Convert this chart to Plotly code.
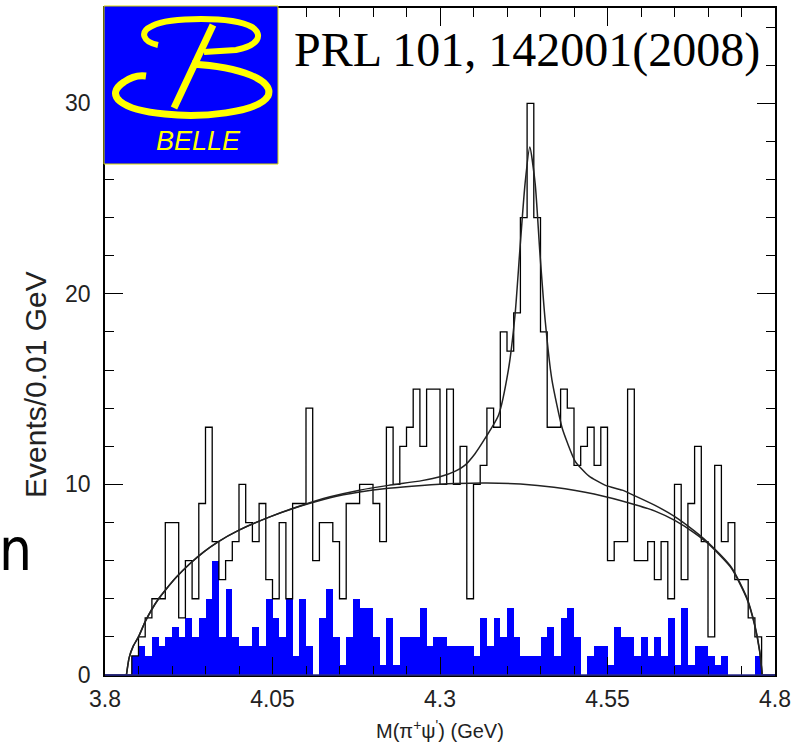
import plotly.graph_objects as go

# ---------------- data ----------------
bin_lo = 3.80
bin_w = 0.01
# signal-region events per 0.01 GeV bin (3.80 - 4.80 GeV)
data_counts = [0, 0, 0, 0, 1, 2, 3, 4, 4, 8,
               8, 3, 6, 4, 9, 13, 7, 5, 6, 7,
               10, 8, 7, 9, 5, 4, 8, 4, 9, 9,
               14, 6, 8, 8, 7, 4, 9, 9, 10, 10,
               9, 7, 13, 10, 12, 13, 15, 12, 15, 15,
               10, 15, 10, 12, 4, 10, 11, 14, 13, 18,
               17, 19, 24, 30, 24, 18, 13, 13, 15, 14,
               11, 12, 13, 11, 13, 6, 7, 7, 15, 6,
               6, 7, 5, 7, 4, 10, 5, 9, 12, 7,
               2, 11, 7, 8, 5, 5, 3, 2, 0, 0]
# scaled sideband (blue) per bin
side_counts = [0, 0, 0, 0, 1, 1.5, 1, 2, 1.5, 2,
               2.5, 2, 3, 2, 3, 4, 6, 2, 4.5, 2,
               1.5, 1.5, 2.5, 1.5, 4, 3, 2, 4, 1, 4,
               1.5, 0, 3, 4.5, 2, 0.5, 2, 4, 3.5, 3.5,
               2, 0.5, 3, 0.5, 2, 2, 2, 3.5, 1.5, 2,
               2, 1.5, 1.5, 1.5, 1.5, 1, 3, 1.5, 3, 2,
               3.5, 2, 1, 1, 1, 2, 2.5, 1, 3, 3.5,
               2, 0, 1, 1.5, 1.5, 0.5, 2.5, 2, 2, 1,
               2, 1, 2, 1, 3, 0.5, 3.5, 0.5, 1.5, 1.5,
               1, 0.5, 1, 0, 0, 0, 0, 1, 0, 0]

# background fit curve
bg_x = [3.832, 3.836, 3.842, 3.850, 3.860, 3.870, 3.880, 3.890, 3.907, 3.927,
        3.947, 3.967, 4.000, 4.046, 4.091, 4.136, 4.180, 4.223, 4.273, 4.323,
        4.370, 4.420, 4.470, 4.530, 4.590, 4.621, 4.651, 4.680, 4.700, 4.735,
        4.758, 4.770, 4.777, 4.781]
bg_y = [0, 0.9, 1.5, 2.0, 2.8, 3.45, 4.0, 4.45, 5.15, 5.85,
        6.45, 6.95, 7.6, 8.3, 8.85, 9.3, 9.6, 9.8, 9.95, 10.05,
        10.08, 10.02, 9.85, 9.5, 8.95, 8.6, 8.1, 7.45, 6.9, 5.6,
        4.0, 2.55, 1.25, 0]

# total fit curve (background + signal)
tot_x = [3.832, 3.836, 3.842, 3.850, 3.860, 3.870, 3.880, 3.890, 3.907, 3.927,
         3.947, 3.967, 4.000, 4.046, 4.091, 4.136, 4.180, 4.223, 4.273, 4.300,
         4.323, 4.337, 4.352, 4.367, 4.387, 4.402, 4.412, 4.419, 4.427, 4.434,
         4.442, 4.449, 4.457, 4.467, 4.482, 4.490, 4.502, 4.522, 4.547, 4.572,
         4.591, 4.621, 4.651, 4.680, 4.700, 4.735, 4.758, 4.770, 4.777, 4.781]
tot_y = [0, 0.9, 1.5, 2.0, 2.8, 3.45, 4.0, 4.45, 5.15, 5.85,
         6.45, 6.95, 7.6, 8.3, 8.87, 9.35, 9.7, 9.95, 10.2, 10.4,
         10.7, 11.0, 11.6, 12.4, 13.6, 16.0, 18.9, 22.2, 25.8, 27.7,
         25.8, 22.2, 18.6, 15.5, 13.0, 12.2, 11.2, 10.45, 9.95, 9.7,
         9.4, 8.9, 8.3, 7.55, 6.95, 5.65, 4.05, 2.6, 1.3, 0]

x_tick_vals = [3.8, 4.05, 4.3, 4.55, 4.8]
x_tick_text = ["3.8", "4.05", "4.3", "4.55", "4.8"]
y_tick_vals = [0, 10, 20, 30]

# ---------------- figure ----------------
W, H = 804, 743
ML, MR, MT, MB = 105, 29, 8, 68
PW, PH = W - ML - MR, H - MT - MB


def px(x):
    return (x - ML) / PW


def py(y):
    return (MT + PH - y) / PH


n_bins = len(data_counts)
centers = [bin_lo + bin_w * (i + 0.5) for i in range(n_bins)]
edges = [bin_lo + bin_w * i for i in range(n_bins + 1)]

fig = go.Figure()
fig.add_trace(go.Bar(x=centers, y=side_counts, width=bin_w,
                     marker=dict(color="#0000FF", line=dict(width=0)),
                     showlegend=False, hoverinfo="skip"))
fig.add_trace(go.Scatter(x=edges, y=data_counts + [data_counts[-1]], mode="lines",
                         line=dict(color="black", width=1.3, shape="hv"),
                         showlegend=False, hoverinfo="skip"))
fig.add_trace(go.Scatter(x=bg_x, y=bg_y, mode="lines",
                         line=dict(color="#222222", width=1.5, shape="spline", smoothing=0.6),
                         showlegend=False, hoverinfo="skip"))
fig.add_trace(go.Scatter(x=tot_x, y=tot_y, mode="lines",
                         line=dict(color="#222222", width=1.5, shape="spline", smoothing=0.6),
                         showlegend=False, hoverinfo="skip"))

tick_font = dict(family="Liberation Sans, Arial, sans-serif", size=23, color="#222222")

fig.update_layout(
    width=W, height=H,
    margin=dict(l=ML, r=MR, t=MT, b=MB, autoexpand=False),
    paper_bgcolor="white", plot_bgcolor="white",
    bargap=0,
    xaxis=dict(range=[3.8, 4.8], tickmode="array", tickvals=x_tick_vals, ticktext=x_tick_text,
               ticks="inside", ticklen=18, tickwidth=1.2, tickcolor="black",
               minor=dict(tickmode="linear", tick0=3.8, dtick=0.05, ticks="inside",
                          ticklen=9, tickwidth=1.2, tickcolor="black"),
               showline=True, linecolor="black", linewidth=1.5, mirror="ticks",
               showgrid=False, zeroline=False, tickfont=tick_font, ticklabelstandoff=3),
    yaxis=dict(range=[0, 35], tickmode="array", tickvals=y_tick_vals,
               ticks="inside", ticklen=18, tickwidth=1.2, tickcolor="black",
               minor=dict(tickmode="linear", tick0=0, dtick=2, ticks="inside",
                          ticklen=9, tickwidth=1.2, tickcolor="black"),
               showline=True, linecolor="black", linewidth=1.5, mirror="ticks",
               showgrid=False, zeroline=False, tickfont=tick_font, ticklabelstandoff=8),
)

# baseline drawn in dark blue like the reference
fig.add_shape(type="line", xref="paper", yref="paper", x0=0, x1=1, y0=0, y1=0,
              line=dict(color="#2a2a90", width=1.5), layer="above")

# ---------------- Belle logo ----------------
fig.add_shape(type="rect", xref="paper", yref="paper",
              x0=px(104), x1=px(278), y0=py(6), y1=py(164),
              fillcolor="#0000FF", line=dict(color="#d8d800", width=1), layer="above")


def path(cmds):
    out = []
    for c in cmds:
        if isinstance(c, str):
            out.append(c)
        else:
            out.append("%.5f,%.5f" % (px(c[0]), py(c[1])))
    return " ".join(out)


upper = path(["M", (158, 45), "C", (143, 42), (139, 32), (152, 26),
              "C", (170, 17), (232, 16), (252, 27),
              "C", (264, 35), (258, 46), (236, 50),
              "L", (204, 52)])
lower = path(["M", (192, 64), "C", (240, 67), (275, 80), (268, 96),
              "C", (258, 113), (200, 118), (165, 114),
              "C", (120, 110), (104, 95), (124, 82),
              "C", (131, 77), (139, 75), (146, 76)])
slant = path(["M", (213, 25), "L", (174, 108)])
for p, w in ((upper, 6), (lower, 7), (slant, 7)):
    fig.add_shape(type="path", xref="paper", yref="paper", path=p,
                  line=dict(color="#FFFF00", width=w), layer="above")

fig.add_annotation(xref="paper", yref="paper", x=px(198), y=py(141), text="<i>BELLE</i>",
                   showarrow=False, xanchor="center", yanchor="middle",
                   font=dict(family="Liberation Sans, Arial, sans-serif", size=27, color="#FFFF00"))

# ---------------- texts ----------------
fig.add_annotation(xref="paper", yref="paper", x=px(527), y=py(50),
                   text="PRL 101, 142001(2008)", showarrow=False,
                   xanchor="center", yanchor="middle",
                   font=dict(family="Liberation Serif, Times New Roman, serif", size=48, color="black"))

fig.add_annotation(xref="paper", yref="paper", x=px(440), y=py(743),
                   text="M(π<sup>+</sup>ψ<sup>'</sup>) (GeV)", showarrow=False,
                   xanchor="center", yanchor="bottom", borderpad=0,
                   font=dict(family="Liberation Sans, Arial, sans-serif", size=20, color="#222222"))

fig.add_annotation(xref="paper", yref="paper", x=px(35), y=py(385),
                   text="Events/0.01 GeV", showarrow=False, textangle=-90,
                   xanchor="center", yanchor="middle",
                   font=dict(family="Liberation Sans, Arial, sans-serif", size=30, color="#222222"))

fig.add_annotation(xref="paper", yref="paper", x=px(-3), y=py(550),
                   text="n", showarrow=False, xanchor="left", yanchor="middle",
                   font=dict(family="DejaVu Sans Condensed, Liberation Sans, sans-serif",
                             size=58, color="black"))

fig.write_html("out.html")
